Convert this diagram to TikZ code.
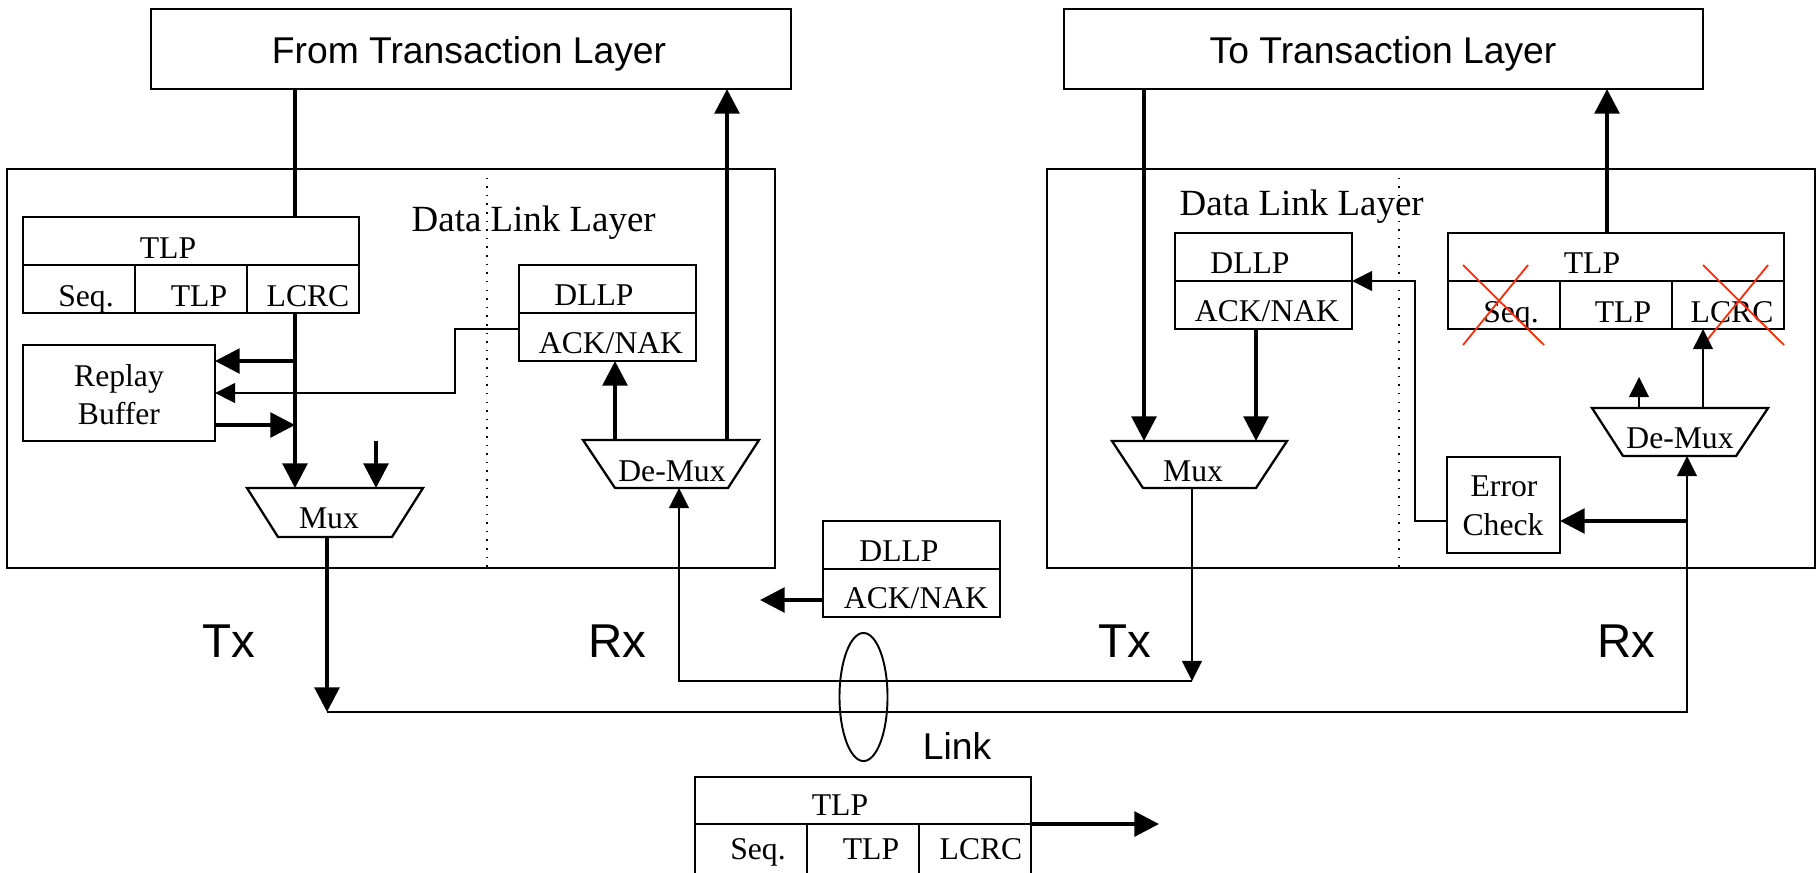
\documentclass[tikz,border=0pt]{standalone}
\usepackage{fontspec}
\setmainfont{Liberation Serif}
\newfontfamily\arialfont{Liberation Sans}
\usetikzlibrary{arrows.meta,shapes.geometric}
\definecolor{xred}{RGB}{255,40,0}

\begin{document}
\begin{tikzpicture}[x=0.01cm, y=-0.01cm,
  box/.style={draw, line width=0.65pt, inner sep=0, outer sep=0},
  thk/.style={line width=1.1pt},
  thn/.style={line width=0.55pt},
  bigtip/.style={-{Triangle[length=7pt,width=7pt]}},
  smalltip/.style={-{Triangle[length=5.7pt,width=5.6pt]}},
  txt/.style={font=\fontsize{9}{10}\selectfont, anchor=base, inner sep=0},
  layertxt/.style={font=\fontsize{10.5}{12}\selectfont, anchor=base west, inner sep=0},
  headtxt/.style={font=\arialfont\fontsize{10.6}{12}\selectfont, anchor=base, inner sep=0},
  bigtxt/.style={font=\arialfont\fontsize{13.5}{15}\selectfont, anchor=base, inner sep=0},
  cross/.style={draw=xred, line width=0.5pt},
  trap/.style={draw, line width=0.65pt},
  cellw/.style={minimum width=1.12cm},
]
\useasboundingbox (0,0) rectangle (1819,872);
\clip (0,0) rectangle (1819,872);
\fill[white] (0,0) rectangle (1819,872);

% ---------- outer blocks ----------
\node[box, minimum width=6.40cm, minimum height=0.80cm] (ftl) at (471,49) {};
\node[box, minimum width=6.39cm, minimum height=0.80cm] (ttl) at (1383.5,49) {};
\node[headtxt] (ftlt) at (469,63) {From Transaction Layer};
\node[headtxt] (ttlt) at (1383,63) {To Transaction Layer};

\node[box, minimum width=7.68cm, minimum height=3.99cm] (dllL) at (391,368.5) {};
\node[box, minimum width=7.68cm, minimum height=3.99cm] (dllR) at (1431,368.5) {};
\draw[dotted, line width=0.45pt] (dllL.north -| 487,0) -- (dllL.south -| 487,0);
\draw[dotted, line width=0.45pt] (dllR.north -| 1399,0) -- (dllR.south -| 1399,0);
\node[layertxt] (dllLt) at (411,231) {Data Link Layer};
\node[layertxt] (dllRt) at (1179,215) {Data Link Layer};

% ---------- left side: transmit TLP ----------
\node[box, minimum width=3.36cm, minimum height=0.48cm] (tlpLh) at (191,241) {};
\node[box, cellw, minimum height=0.48cm] (tlpLc1) at (79,289) {};
\node[box, cellw, minimum height=0.48cm] (tlpLc2) at (191,289) {};
\node[box, cellw, minimum height=0.48cm] (tlpLc3) at (303,289) {};
\node[txt] (tlpLt0) at (168,258) {TLP};
\node[txt] (tlpLt1) at (86,306) {Seq.};
\node[txt] (tlpLt2) at (199,306) {TLP};
\node[txt] (tlpLt3) at (308,306) {LCRC};

\node[box, minimum width=1.92cm, minimum height=0.96cm] (replay) at (119,393) {};
\node[txt] (replayt1) at (119,386) {Replay};
\node[txt] (replayt2) at (119,424) {Buffer};

% Mux (left)
\draw[trap] (247,488) -- (423,488) -- (392,537) -- (278,537) -- cycle;
\node[txt] (muxLt) at (329,528) {Mux};
\coordinate (mLa) at (295,488);
\coordinate (mLb) at (376,488);
\coordinate (mLbs) at (376,441);
\coordinate (mLo) at (327,537);

% DLLP (left, received)
\node[box, minimum width=1.77cm, minimum height=0.48cm] (dllpLh) at (607.5,289) {};
\node[box, minimum width=1.77cm, minimum height=0.48cm] (dllpLb) at (607.5,337) {};
\node[txt] (dllpLt1) at (594,305) {DLLP};
\node[txt] (dllpLt2) at (611,353) {ACK/NAK};

% De-Mux (left)
\draw[trap] (583,440) -- (759,440) -- (728,488) -- (615,488) -- cycle;
\node[txt] (dmLt) at (672,481) {De-Mux};
\coordinate (dmLa) at (615,440);
\coordinate (dmLo) at (727,440);
\coordinate (dmLi) at (679,488);

% connectors (left)
\coordinate (jr1) at (295,361);
\coordinate (jr2) at (455,393);
\coordinate (jr3) at (295,425);
\coordinate (k1) at (455,329);
\draw[thk] (mLa |- ftl.south) -- (mLa |- tlpLh.north);
\draw[thk, bigtip] (mLa |- tlpLc3.south) -- (mLa);
\draw[thk, bigtip] (jr1) -- (replay.east |- jr1);
\draw[thn, smalltip] (dllpLb.west |- k1) -- (k1) -- (jr2) -- (replay.east |- jr2);
\draw[thk, bigtip] (replay.east |- jr3) -- (jr3);
\draw[thk, bigtip] (mLbs) -- (mLb);
\draw[thk, bigtip] (dmLa) -- (dmLa |- dllpLb.south);
\draw[thk, bigtip] (dmLo) -- (dmLo |- ftl.south);

% ---------- right side: receive ----------
\node[box, minimum width=1.77cm, minimum height=0.48cm] (dllpRh) at (1263.5,257) {};
\node[box, minimum width=1.77cm, minimum height=0.48cm] (dllpRb) at (1263.5,305) {};
\node[txt] (dllpRt1) at (1250,273) {DLLP};
\node[txt] (dllpRt2) at (1267,321) {ACK/NAK};

\draw[trap] (1112,441) -- (1287,441) -- (1256,488) -- (1143,488) -- cycle;
\node[txt] (muxRt) at (1193,481) {Mux};
\coordinate (mRa) at (1144,441);
\coordinate (mRb) at (1256,441);
\coordinate (mRo) at (1192,488);

\node[box, minimum width=3.36cm, minimum height=0.48cm] (tlpRh) at (1616,257) {};
\node[box, cellw, minimum height=0.48cm] (tlpRc1) at (1504,305) {};
\node[box, cellw, minimum height=0.48cm] (tlpRc2) at (1616,305) {};
\node[box, cellw, minimum height=0.48cm] (tlpRc3) at (1728,305) {};
\node[txt] (tlpRt0) at (1592,273) {TLP};
\node[txt] (tlpRt1) at (1511,322) {Seq.};
\node[txt] (tlpRt2) at (1623,322) {TLP};
\node[txt] (tlpRt3) at (1732,322) {LCRC};
\draw[cross] (1463,265) -- (1544,345);
\draw[cross] (1528,265) -- (1463,345);
\draw[cross] (1703,265) -- (1784,345);
\draw[cross] (1768,265) -- (1703,345);

\draw[trap] (1592,408) -- (1768,408) -- (1736,456) -- (1623,456) -- cycle;
\node[txt] (dmRt) at (1680,448) {De-Mux};
\coordinate (dmRa) at (1639,408);
\coordinate (dmRaEnd) at (1639,377);
\coordinate (dmRb) at (1703,408);
\coordinate (dmRi) at (1687,456);

\node[box, minimum width=1.13cm, minimum height=0.96cm] (errchk) at (1503.5,505) {};
\node[txt] (errt1) at (1504,496) {Error};
\node[txt] (errt2) at (1503,535) {Check};

% connectors (right)
\coordinate (tR) at (1607,233);
\coordinate (ej) at (1687,521);
\coordinate (k2) at (1415,521);
\coordinate (k3) at (1415,281);
\draw[thk, bigtip] (mRa |- ttl.south) -- (mRa);
\draw[thk, bigtip] (mRb |- dllpRb.south) -- (mRb);
\draw[thk, bigtip] (tR) -- (tR |- ttl.south);
\draw[thn, smalltip] (dmRb) -- (dmRb |- tlpRc3.south);
\draw[thn, smalltip] (dmRa) -- (dmRaEnd);
\draw[thk, bigtip] (ej) -- (errchk.east |- ej);
\draw[thn, smalltip] (errchk.west |- ej) -- (k2) -- (k3) -- (dllpRb.north east);

% ---------- link ----------
\coordinate (txL) at (327,712);
\coordinate (rxR) at (1687,712);
\coordinate (txR) at (1192,681);
\coordinate (rxL) at (679,681);
\draw[thk, bigtip] (mLo) -- (txL);
\draw[thn, smalltip] (txL) -- (rxR) -- (dmRi);
\draw[thn, smalltip] (mRo) -- (txR);
\draw[thn, smalltip] (txR) -- (rxL) -- (dmLi);

\node[draw, ellipse, thn, inner sep=0, minimum width=0.48cm, minimum height=1.28cm] (ring) at (863.5,697) {};

\node[bigtxt] (txLt) at (229,657) {Tx};
\node[bigtxt] (rxLt) at (617,657) {Rx};
\node[bigtxt] (txRt) at (1125,657) {Tx};
\node[bigtxt] (rxRt) at (1626,657) {Rx};
\node[headtxt] (linkt) at (957,759) {Link};

% DLLP travelling on the link
\node[box, minimum width=1.77cm, minimum height=0.48cm] (dllpMh) at (911.5,545) {};
\node[box, minimum width=1.77cm, minimum height=0.48cm] (dllpMb) at (911.5,593) {};
\node[txt] (dllpMt1) at (899,561) {DLLP};
\node[txt] (dllpMt2) at (916,608) {ACK/NAK};
\coordinate (dm1) at (823,600);
\coordinate (dm2) at (760,600);
\draw[thk, bigtip] (dm1) -- (dm2);

% TLP travelling on the link
\node[box, minimum width=3.36cm, minimum height=0.47cm] (tlpBh) at (863,800.5) {};
\node[box, cellw, minimum height=0.80cm] (tlpBc1) at (751,864) {};
\node[box, cellw, minimum height=0.80cm] (tlpBc2) at (863,864) {};
\node[box, cellw, minimum height=0.80cm] (tlpBc3) at (975,864) {};
\node[txt] (tlpBt0) at (840,815) {TLP};
\node[txt] (tlpBt1) at (758,859) {Seq.};
\node[txt] (tlpBt2) at (871,859) {TLP};
\node[txt] (tlpBt3) at (981,859) {LCRC};
\coordinate (tb) at (1159,824);
\draw[thk, bigtip] (tlpBh.south east) -- (tb);
\end{tikzpicture}
\end{document}
